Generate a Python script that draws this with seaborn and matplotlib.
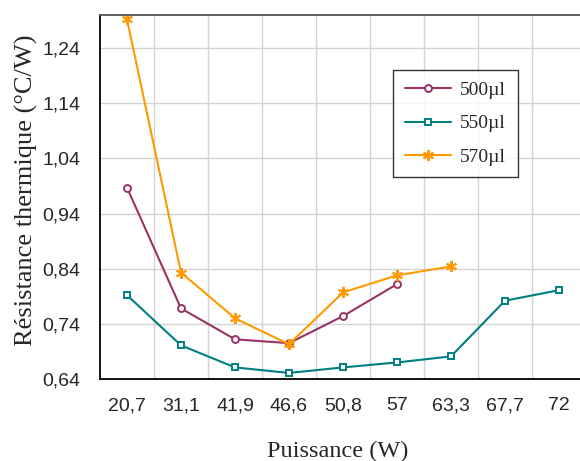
import numpy as np
import pandas as pd
import matplotlib
matplotlib.use('Agg')
import matplotlib.pyplot as plt
import seaborn as sns

# données
puissance = ['20,7', '31,1', '41,9', '46,6', '50,8', '57', '63,3', '67,7', '72']
r_500 = [0.987, 0.768, 0.712, 0.705, 0.754, 0.812, np.nan, np.nan, np.nan]
r_550 = [0.792, 0.701, 0.661, 0.651, 0.661, 0.670, 0.681, 0.782, 0.801]
r_570 = [1.292, 0.833, 0.750, 0.703, 0.797, 0.828, 0.844, np.nan, np.nan]
y_ticks = [0.64, 0.74, 0.84, 0.94, 1.04, 1.14, 1.24]

series = [
    ('500µl', r_500, '#993366', 'o'),
    ('550µl', r_550, '#008080', 's'),
    ('570µl', r_570, '#FF9900', (6, 2, 0)),
]

sns.set_style('white')
serif = ['Liberation Serif', 'DejaVu Serif']
sans = ['Liberation Sans', 'DejaVu Sans']

fig = plt.figure(figsize=(5.8, 4.61), dpi=100)
W, H = 580, 461
ax = fig.add_axes([100 / W, 1 - 379 / H, 480 / W, (379 - 15) / H])

x = np.arange(len(puissance))
for name, vals, color, marker in series:
    df = pd.DataFrame({'x': x, 'y': vals}).dropna()
    open_marker = marker in ('o', 's')
    sns.lineplot(data=df, x='x', y='y', ax=ax, color=color, linewidth=1.5,
                 marker=marker, markersize=5 if open_marker else 8,
                 markerfacecolor='white' if open_marker else color,
                 markeredgecolor=color, markeredgewidth=1.4, label=name)

ax.set_xlim(-0.5, -0.5 + 480 / 54)
ax.set_ylim(0.64, 1.30)
ax.set_xticks(x)
ax.set_xticklabels(puissance)
ax.set_xticks(x[:-1] + 0.5, minor=True)
ax.set_yticks(y_ticks)
ax.set_yticklabels([f'{v:.2f}'.replace('.', ',') for v in y_ticks])
ax.tick_params(axis='x', which='major', length=0, pad=13, labelsize=14)
ax.tick_params(axis='x', which='minor', length=4.5, width=1.2, direction='out', color='black')
ax.tick_params(axis='y', length=4, width=1.2, direction='out', color='black', labelsize=14, pad=10)
for lab in ax.get_xticklabels() + ax.get_yticklabels():
    lab.set_family(sans)

ax.grid(True, axis='y', which='major', color='#d3d3d3', linewidth=1)
ax.grid(True, axis='x', which='minor', color='#d3d3d3', linewidth=1)
ax.set_axisbelow(True)

ax.spines['left'].set_color('black')
ax.spines['left'].set_linewidth(1.3)
ax.spines['bottom'].set_color('black')
ax.spines['bottom'].set_linewidth(1.3)
ax.spines['top'].set_color('#555555')
ax.spines['top'].set_linewidth(1.3)
ax.spines['right'].set_visible(False)

ax.set_xlabel('Puissance (W)', family=serif, fontsize=17.5)
ax.set_ylabel('Résistance thermique (°C/W)', family=serif, fontsize=19)
ax.xaxis.set_label_coords(0.495, -0.170)
ax.yaxis.set_label_coords(-0.129, 0.519)

leg = ax.legend(loc='upper left', bbox_to_anchor=(393 / W, 1 - 70 / H),
                bbox_transform=fig.transFigure, frameon=True, fancybox=False,
                borderaxespad=0, prop={'family': serif, 'size': 14},
                handlelength=2.4, labelspacing=0.8, borderpad=0.6,
                handletextpad=0.45)
leg.get_frame().set_edgecolor('black')
leg.get_frame().set_linewidth(1.0)

fig.savefig('out.png', dpi=100)
